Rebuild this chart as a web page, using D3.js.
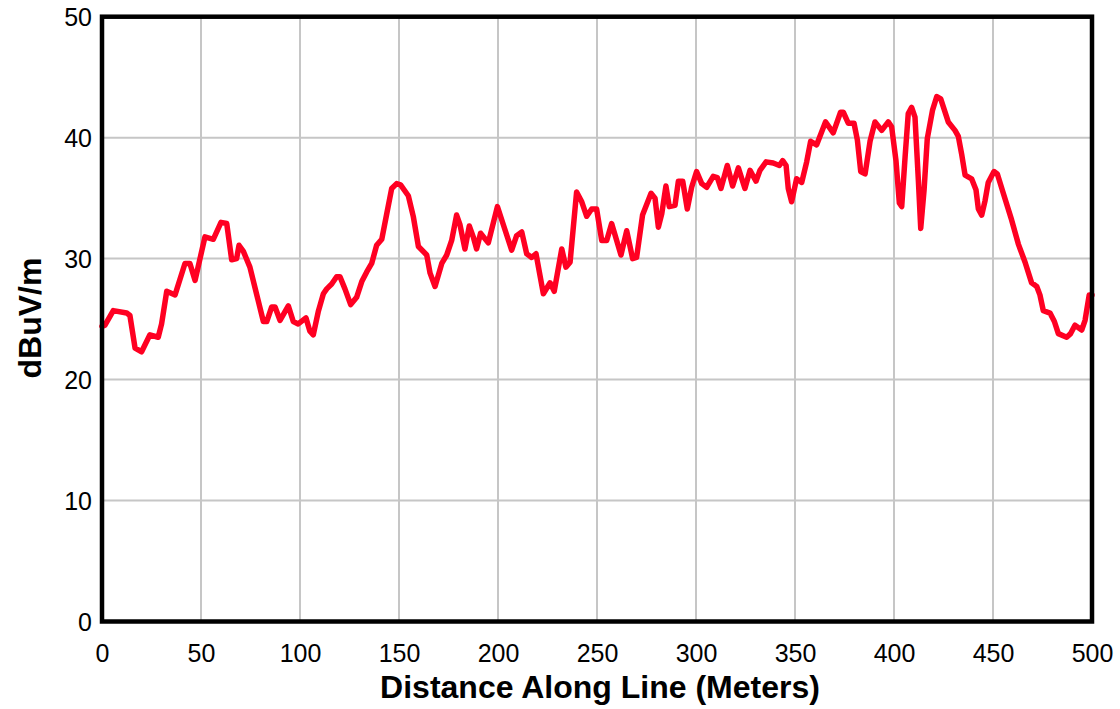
<!DOCTYPE html>
<html><head><meta charset="utf-8">
<script src="https://cdn.jsdelivr.net/npm/d3@7/dist/d3.min.js"></script>
<style>body{margin:0;background:#fff;}svg{display:block;}</style>
</head><body>
<svg id="c" width="1120" height="709"></svg>
<script>
const distance = [0,1.5,5.7,12.5,14.1,16.7,20,24.2,28.4,30.1,32.7,36.9,41.9,44.4,47,52,56.2,60.1,63,65.5,68,69.2,71.4,74.7,81.5,83.2,85.7,87.4,89.9,94.1,96.6,99.1,103,105,106.7,109.2,111.8,113.5,116,118.5,120.2,122.7,125.6,128.6,131.2,133.7,136.2,138.7,141.3,143.8,146.3,148.8,150.8,154.7,157.2,159.8,164,165.7,168.2,171.6,174.1,176.6,179.1,180.8,183.3,185.5,187.5,189.2,191.2,195.1,199.7,202.7,206.9,209.4,212,214.5,217,219.2,222.9,226.3,228.4,232.2,234.3,236.4,239.7,242.3,244.8,247.3,249.8,252.4,254.9,257.4,262.1,265,268,270,273,277.3,279.3,281,282.7,284.8,286.5,289.4,291.1,293.3,295.6,297.8,300.3,302.9,305.4,308.7,310.8,312.6,315.8,318.5,321.4,324.7,327.3,330.3,332.3,335.4,339,342.1,343.8,345.5,346.6,348.3,350.8,353.4,355.9,357.9,360.9,365.4,369.3,373,374.4,376.9,379.8,381.5,383.2,385.4,387.9,390.4,393.8,397.1,398.8,401,402.7,403.9,405.6,407.2,408.9,410.6,412.3,413.5,415.2,416.8,419.5,421.6,423.6,427.4,430.8,432.5,434.2,435.9,439.2,441.4,442.6,444.3,446,447.6,450.5,452.2,455.2,459.4,462.8,466.2,469.5,472.1,473.7,475.4,478.8,481,483,487.2,489.2,491.4,494.8,496.5,498.6,500];
const dbuv = [24.4,24.5,25.7,25.5,25.3,22.6,22.3,23.7,23.5,24.6,27.3,27.0,29.6,29.6,28.2,31.8,31.6,33.0,32.9,29.9,30.0,31.1,30.6,29.3,24.8,24.8,26.0,26.0,24.9,26.1,24.8,24.6,25.1,24.0,23.7,25.6,27.1,27.5,27.9,28.5,28.5,27.5,26.2,26.8,28.1,28.9,29.6,31.1,31.6,33.7,35.8,36.2,36.1,35.2,33.5,31.0,30.3,28.8,27.7,29.6,30.3,31.5,33.6,32.8,30.8,32.7,31.8,30.8,32.1,31.3,34.3,32.8,30.7,31.9,32.2,30.4,30.1,30.4,27.1,28.0,27.3,30.8,29.3,29.7,35.5,34.7,33.5,34.1,34.1,31.5,31.5,32.9,30.3,32.3,30.0,30.1,33.6,35.4,35.0,32.6,33.7,36.0,34.3,34.4,36.4,36.4,34.1,35.9,37.2,36.2,35.9,36.8,36.7,35.8,37.7,36.0,37.5,35.8,37.3,36.4,37.3,38.0,37.9,37.7,38.1,37.7,35.8,34.7,36.6,36.3,38.0,39.7,39.4,41.3,40.4,42.1,42.1,41.2,41.2,39.8,37.2,37.0,39.7,41.3,40.6,41.3,40.9,38.1,34.6,34.3,38.4,42.0,42.5,41.7,36.5,32.5,35.7,39.9,42.3,43.4,43.2,41.3,40.6,40.1,38.6,36.9,36.6,35.7,34.1,33.6,34.8,36.3,37.2,37.0,35.4,33.2,31.2,29.7,28.0,27.7,27.0,25.7,25.5,24.8,23.8,23.5,23.8,24.5,24.1,24.9,27.0,27.0];
const xTicks = [0,50,100,150,200,250,300,350,400,450,500];
const yTicks = [0,10,20,30,40,50];

const svg = d3.select("#c");
const m = {l:102, r:1092, t:16.7, b:621.5};
const x = d3.scaleLinear().domain([0,500]).range([m.l, m.r]);
const y = d3.scaleLinear().domain([0,50]).range([m.b, m.t]);
const FONT = "Liberation Sans, Arial, sans-serif";

// grid
svg.append("g").selectAll("line").data(xTicks.slice(1,-1)).join("line")
  .attr("x1",d=>x(d)).attr("x2",d=>x(d)).attr("y1",m.t).attr("y2",m.b)
  .attr("stroke","#c6c6c6").attr("stroke-width",2);
svg.append("g").selectAll("line").data(yTicks.slice(1,-1)).join("line")
  .attr("y1",d=>y(d)).attr("y2",d=>y(d)).attr("x1",m.l).attr("x2",m.r)
  .attr("stroke","#c6c6c6").attr("stroke-width",2);

// line
const line = d3.line().x((d,i)=>x(distance[i])).y(d=>y(d)).curve(d3.curveLinear);
svg.append("path").datum(dbuv).attr("d",line).attr("fill","none")
  .attr("stroke","#ff0022").attr("stroke-width",5.5).attr("stroke-linejoin","round").attr("stroke-linecap","round");

// frame
svg.append("rect").attr("x",m.l).attr("y",m.t).attr("width",m.r-m.l).attr("height",m.b-m.t)
  .attr("fill","none").attr("stroke","#000").attr("stroke-width",4.5);

// axes labels
const xa = d3.axisBottom(x).tickValues(xTicks).tickSize(0).tickPadding(0);
const gx = svg.append("g").attr("transform",`translate(0,${m.b})`).call(xa);
gx.select(".domain").remove();
gx.selectAll("text").attr("dy",null).attr("y",40.5).attr("fill","#000")
  .style("font-family",FONT).style("font-size","25px");

const ya = d3.axisLeft(y).tickValues(yTicks).tickSize(0).tickPadding(0);
const gy = svg.append("g").attr("transform",`translate(${m.l},0)`).call(ya);
gy.select(".domain").remove();
gy.selectAll("text").attr("x",-10).attr("dy","0.36em").attr("fill","#000")
  .style("font-family",FONT).style("font-size","25px");

svg.append("text").attr("x",600).attr("y",698).attr("text-anchor","middle")
  .style("font-family",FONT).style("font-size","32px").style("font-weight","bold")
  .text("Distance Along Line (Meters)");
svg.append("text").attr("transform","translate(41,318) rotate(-90)").attr("text-anchor","middle")
  .style("font-family",FONT).style("font-size","32px").style("font-weight","bold")
  .text("dBuV/m");
</script>
</body></html>
